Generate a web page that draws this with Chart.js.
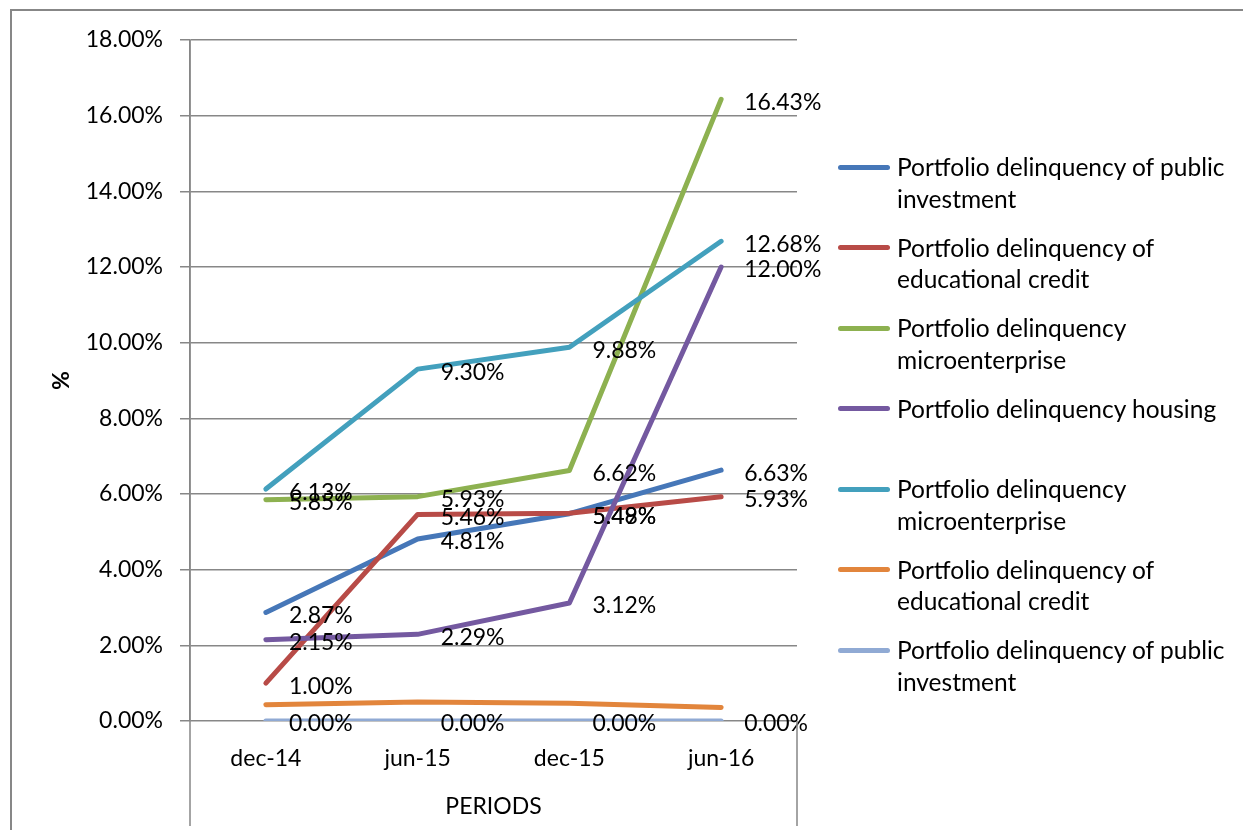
<!DOCTYPE html>
<html>
<head>
<meta charset="utf-8">
<script src="https://cdn.jsdelivr.net/npm/chart.js@4.4.1/dist/chart.umd.min.js"></script>
<style>
  body { margin: 0; background: #fff; }
  #wrap { position: relative; width: 1243px; height: 830px; }
  #legend { position: absolute; left: 838px; top: 151px; font-family: Lato, sans-serif; font-size: 24.5px; color: #000; }
  .item { position: relative; height: 80.5px; padding-left: 59px; line-height: 31.5px; width: 345px; }
  .swatch { position: absolute; left: 0; top: 13.5px; width: 52px; height: 5px; border-radius: 3px; }
</style>
</head>
<body>
<div id="wrap">
  <canvas id="chart" width="1243" height="830"></canvas>
  <div id="legend"></div>
</div>
<script>
const periods = ['dec-14', 'jun-15', 'dec-15', 'jun-16'];
const seriesNames = [
  'Portfolio delinquency of public investment',
  'Portfolio delinquency of educational credit',
  'Portfolio delinquency microenterprise',
  'Portfolio delinquency housing',
  'Portfolio delinquency microenterprise',
  'Portfolio delinquency of educational credit',
  'Portfolio delinquency of public investment'
];
const publicInvestment = [2.87, 4.81, 5.48, 6.63];
const educationalCredit = [1.00, 5.46, 5.49, 5.93];
const microenterprise = [5.85, 5.93, 6.62, 16.43];
const housing = [2.15, 2.29, 3.12, 12.00];
const microenterprise2 = [6.13, 9.30, 9.88, 12.68];
const educationalCredit2 = [0.43, 0.50, 0.47, 0.36];
const publicInvestment2 = [0, 0, 0, 0];
const yMin = 0, yMax = 18, yStep = 2;

const seriesData = [publicInvestment, educationalCredit, microenterprise, housing, microenterprise2, educationalCredit2, publicInvestment2];
const colors = ['#4677B8', '#B84B47', '#8DB150', '#7459A0', '#43A0BD', '#E2853C', '#90AAD4'];
const showValues = [true, true, true, true, true, false, true];

const FONT = 'Lato, sans-serif';
const GRID = '#878787';

// value labels to the right of each point, like Excel's "right" position
const valueLabels = {
  id: 'valueLabels',
  afterDatasetsDraw(chart) {
    const ctx = chart.ctx;
    ctx.save();
    ctx.font = '23px ' + FONT;
    ctx.fillStyle = '#000';
    ctx.textAlign = 'left';
    ctx.textBaseline = 'middle';
    chart.data.datasets.forEach((ds, i) => {
      if (!ds.showValues) return;
      chart.getDatasetMeta(i).data.forEach((pt, j) => {
        ctx.fillText(ds.data[j].toFixed(2) + '%', pt.x + 23, pt.y + 3);
      });
    });
    ctx.restore();
  }
};

// outer frame plus the axis lines running down past the plot
const frame = {
  id: 'frame',
  afterDraw(chart) {
    const ctx = chart.ctx, a = chart.chartArea;
    ctx.save();
    ctx.strokeStyle = GRID;
    ctx.lineWidth = 2;
    ctx.beginPath();
    ctx.moveTo(11, 830); ctx.lineTo(11, 10); ctx.lineTo(1243, 10);
    ctx.stroke();
    ctx.lineWidth = 1.5;
    ctx.beginPath();
    ctx.moveTo(a.left, a.top); ctx.lineTo(a.left, 826);
    ctx.moveTo(a.right, a.bottom); ctx.lineTo(a.right, 826);
    ctx.stroke();
    ctx.restore();
  }
};

const chart = new Chart(document.getElementById('chart'), {
  type: 'line',
  data: {
    labels: periods,
    datasets: seriesData.map((d, i) => ({
      label: seriesNames[i],
      data: d,
      borderColor: colors[i],
      backgroundColor: colors[i],
      borderWidth: 5,
      borderCapStyle: 'round',
      borderJoinStyle: 'round',
      pointRadius: 0,
      tension: 0,
      order: seriesData.length - i,
      showValues: showValues[i]
    }))
  },
  options: {
    responsive: false,
    animation: false,
    layout: { padding: { left: 0, top: 40, right: 446, bottom: 0 } },
    plugins: { legend: { display: false }, tooltip: { enabled: false } },
    scales: {
      x: {
        offset: true,
        grid: { display: false, drawTicks: false },
        border: { display: false },
        ticks: { color: '#000', font: { family: FONT, size: 23 }, padding: 24 },
        title: { display: true, text: 'PERIODS', color: '#000', font: { family: FONT, size: 23 }, padding: { top: 0, bottom: 10 } },
        afterFit(s) { s.height = 109; }
      },
      y: {
        min: yMin, max: yMax,
        grid: { color: GRID, lineWidth: 1.5, tickLength: 10 },
        border: { display: true, color: GRID, width: 1.5 },
        ticks: { stepSize: yStep, color: '#000', font: { family: FONT, size: 23 }, padding: 17,
          callback: v => v.toFixed(2) + '%' },
        title: { display: true, text: '%', color: '#000', font: { family: FONT, size: 23, weight: 'bold' }, padding: { top: 48, bottom: 0 } },
        afterFit(s) { s.width = 190; }
      }
    }
  },
  plugins: [valueLabels, frame]
});

// legend built from the chart's datasets (wraps like the original)
document.getElementById('legend').innerHTML = chart.data.datasets.map(ds => `
  <div class="item"><span class="swatch" style="background:${ds.borderColor}"></span>${ds.label}</div>
`).join('');
</script>
</body>
</html>
